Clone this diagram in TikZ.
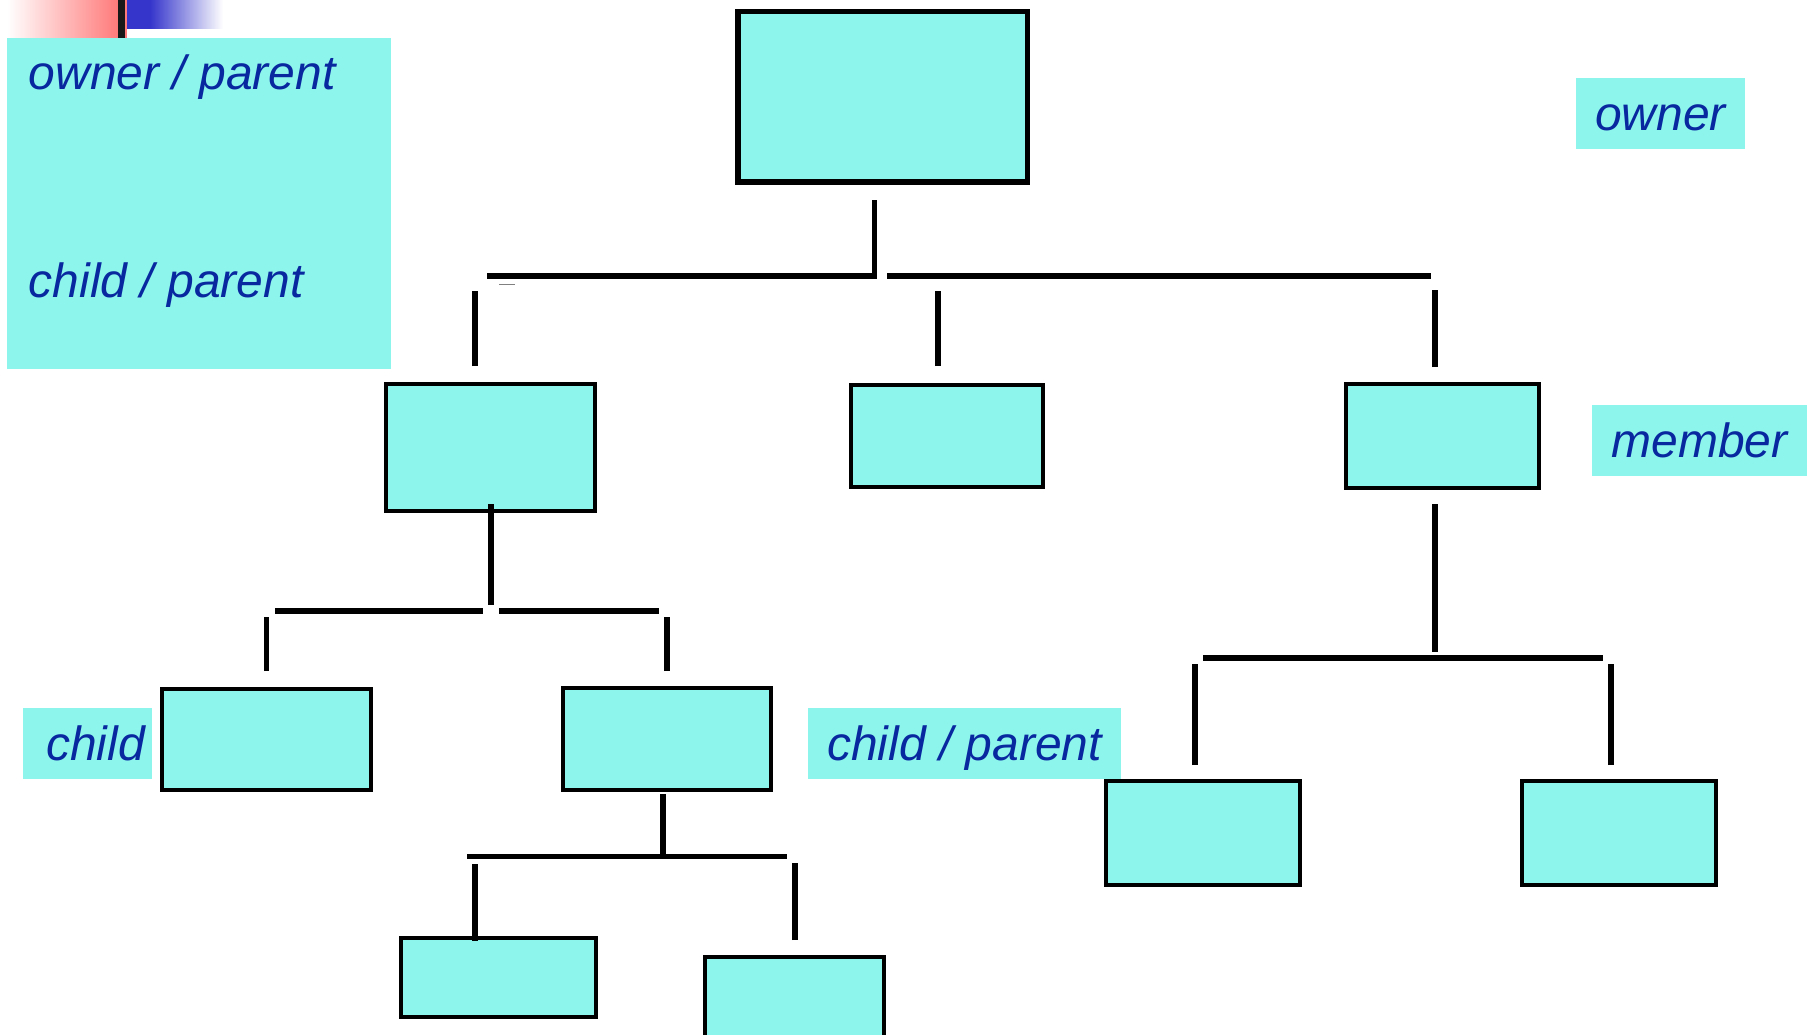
\documentclass[tikz,border=0pt]{standalone}
\usepackage{fontspec}
\setmainfont{Liberation Sans}
\usepackage{tikz}
\usetikzlibrary{calc}

\definecolor{boxfill}{RGB}{142,245,236}
\definecolor{lblblue}{RGB}{8,40,160}
\definecolor{cornerpink}{RGB}{255,122,122}
\definecolor{cornerblue}{RGB}{53,53,204}

\tikzset{
  entity/.style={draw=black,line width=4pt,fill=boxfill,inner sep=0pt},
  conn/.style={line width=5.5pt,line cap=butt},
  lbl/.style={fill=boxfill,inner sep=0pt,minimum height=71pt,text=lblblue,
    font=\fontsize{48}{58}\selectfont\itshape,text height=34pt,text depth=0pt},
  lbltext/.style={inner sep=0pt,text=lblblue,font=\fontsize{48}{58}\selectfont\itshape}
}

\begin{document}
\begin{tikzpicture}[x=1pt,y=-1pt]
		\useasboundingbox (0,0) rectangle (1816,1035);
		\fill[white] (0,0) rectangle (1816,1035);
		% slide corner
		\shade[left color=white,right color=cornerpink] (7,0) rectangle (118,38);
		\fill[black!90] (118,0) rectangle (125,38);
		\fill[cornerpink] (125,0) rectangle (127,38);
		\fill[cornerblue] (127,0) rectangle (150,29);
		\shade[left color=cornerblue,right color=white] (150,0) rectangle (223,29);
		% legend
		\node[fill=boxfill,inner sep=0pt,minimum width=384pt,minimum height=331pt,anchor=north west] (legend) at (7,38) {};
		\node[lbltext,anchor=base west] (ownerparent) at (28.5,90) {owner / parent};
		\node[lbltext,anchor=base west] (childparent) at (28.5,298) {child / parent};
		% records
		\node[entity,line width=5.5pt,minimum width=289.5pt,minimum height=170.5pt] (root) at (882.5,97) {};
		\node[entity,minimum width=209pt,minimum height=127pt] (A) at (490.5,447.5) {};
		\node[entity,minimum width=192pt,minimum height=102pt] (B) at (947,436) {};
		\node[entity,minimum width=193pt,minimum height=104pt] (C) at (1442.5,436) {};
		\node[entity,minimum width=209pt,minimum height=101pt] (D) at (266.5,739.5) {};
		\node[entity,minimum width=208pt,minimum height=102pt] (E) at (666.5,739) {};
		\node[entity,minimum width=195pt,minimum height=79pt] (F) at (498.5,977.5) {};
		\node[entity,minimum width=179pt,minimum height=80pt] (G) at (794.5,997) {};
		\node[entity,minimum width=194pt,minimum height=104pt] (H) at (1203,833) {};
		\node[entity,minimum width=194pt,minimum height=104pt] (I) at (1619,833) {};
		% connectors
		\draw[conn] ($(root.south)+(-8,15.5)$) -- ++(0,79);
		\draw[conn] (487,276) -- (872,276);
		\draw[conn] (887,276) -- (1431,276);
		\draw[line width=1pt,gray] (499,285) -- (515,285);
		\draw[conn] ($(A.north)+(-15.5,-16)$) -- ++(0,-75);
		\draw[conn] ($(B.north)+(-9,-17)$) -- ++(0,-75);
		\draw[conn] ($(C.north)+(-7.5,-15)$) -- ++(0,-77);
		\draw[conn] ($(A.south)+(0.5,-9)$) -- ++(0,101);
		\draw[conn] (275,611) -- (483,611);
		\draw[conn] (499,611) -- (659,611);
		\draw[conn] ($(D.north)+(0,-16)$) -- ++(0,-54);
		\draw[conn] ($(E.north)+(0.5,-15)$) -- ++(0,-54);
		\draw[conn] ($(E.south)+(-3.5,2)$) -- ++(0,65);
		\draw[conn] (467,856.5) -- (787,856.5);
		\draw[conn] ($(F.north)+(-23.5,4.5)$) -- ++(0,-77);
		\draw[conn] ($(G.north)+(0.5,-15)$) -- ++(0,-77);
		\draw[conn] ($(C.south)+(-7.5,14)$) -- ++(0,148);
		\draw[conn] (1203,658) -- (1602.5,658);
		\draw[conn] ($(H.north)+(-8,-14)$) -- ++(0,-101);
		\draw[conn] ($(I.north)+(-8,-14)$) -- ++(0,-101);
		% labels
		\node[lbl,minimum width=169pt] (owner) at (1660.5,113.5) {owner};
		\node[lbl,minimum width=215pt] (member) at (1699.5,440.5) {member};
		\node[lbl,minimum width=129pt,text width=115pt,align=right] (child) at (87.5,743.5) {child};
		\node[lbl,minimum width=313pt] (childpar) at (964.5,743.5) {child / parent};
\end{tikzpicture}
\end{document}
